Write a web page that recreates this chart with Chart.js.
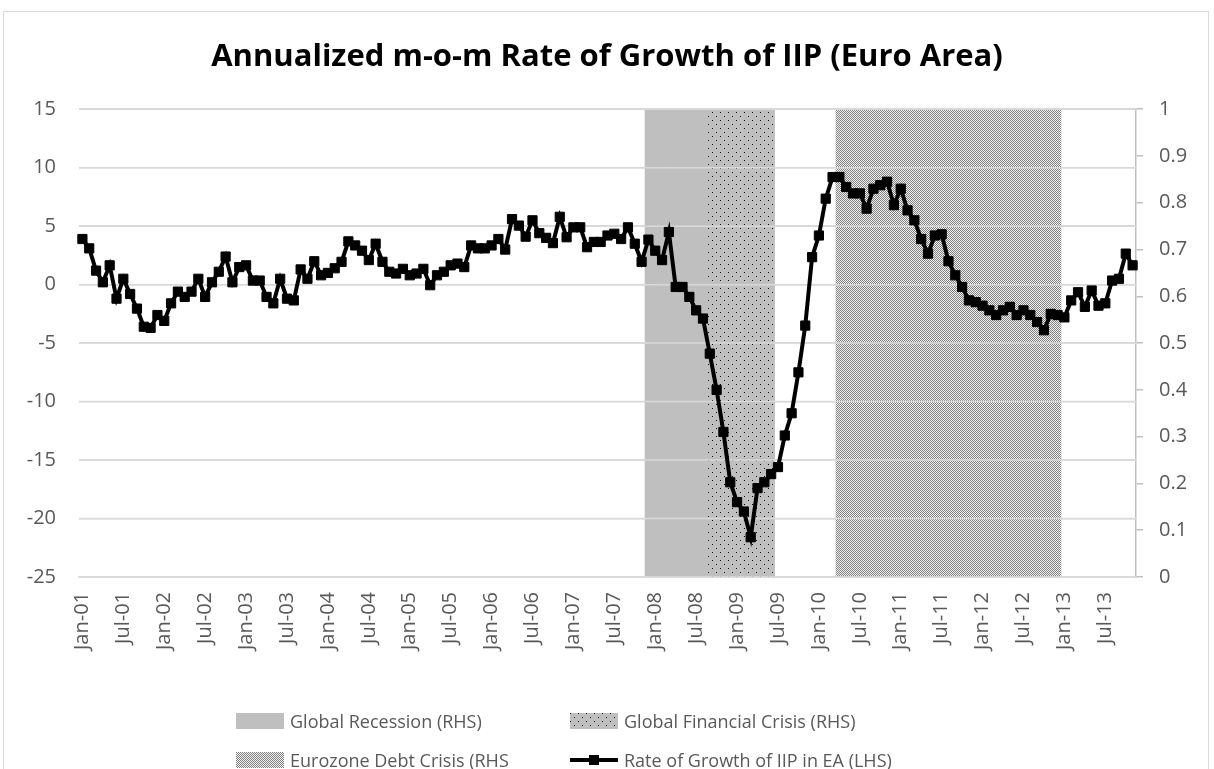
<!DOCTYPE html>
<html>
<head>
<meta charset="utf-8">
<script src="https://cdn.jsdelivr.net/npm/chart.js@4.4.1/dist/chart.umd.min.js"></script>
<style>
  body { margin: 0; background: #fff; }
  #wrap { position: relative; width: 1214px; height: 769px; overflow: hidden; }
  #moldura { position: absolute; left: 3px; top: 11px; width: 1206px; height: 800px; border: 1px solid #D9D9D9; box-sizing: border-box; }
  #grafico { position: absolute; left: 0; top: 0; }
  .leg { position: absolute; display: flex; align-items: center; font-family: 'Open Sans'; font-size: 18px; color: #595959; white-space: nowrap; }
  .leg canvas { margin-right: 6px; }
</style>
</head>
<body>
<div id="wrap">
  <div id="moldura"></div>
  <canvas id="grafico" width="1214" height="769"></canvas>
  <div id="legenda"></div>
</div>
<script>
// Dados (Jan-01 até Nov-13)
const meses = ['Jan', 'Feb', 'Mar', 'Apr', 'May', 'Jun', 'Jul', 'Aug', 'Sep', 'Oct', 'Nov', 'Dec'];
const anos = ['01', '02', '03', '04', '05', '06', '07', '08', '09', '10', '11', '12', '13'];

const crescimentoIIP = [
  3.9, 3.1, 1.2, 0.2, 1.65, -1.2, 0.5, -0.8, -2.05, -3.6, -3.7, -2.6,
  -3.1, -1.6, -0.6, -1.05, -0.6, 0.5, -1.05, 0.2, 1.1, 2.4, 0.2, 1.5,
  1.65, 0.35, 0.35, -1.05, -1.6, 0.5, -1.2, -1.35, 1.3, 0.5, 2.0, 0.8,
  1.0, 1.4, 1.95, 3.7, 3.35, 2.9, 2.1, 3.5, 1.95, 1.1, 0.95, 1.35,
  0.8, 0.95, 1.35, -0.05, 0.8, 1.1, 1.65, 1.8, 1.5, 3.35, 3.1, 3.1,
  3.35, 3.9, 3.0, 5.6, 5.05, 4.1, 5.5, 4.4, 4.0, 3.55, 5.8, 4.05,
  4.9, 4.9, 3.2, 3.65, 3.65, 4.2, 4.35, 3.9, 4.9, 3.5, 1.95, 3.85,
  2.9, 2.1, 4.5, -0.2, -0.2, -1.05, -2.2, -2.9, -5.9, -9.0, -12.6, -16.9,
  -18.6, -19.4, -21.6, -17.4, -16.9, -16.2, -15.6, -12.9, -11.0, -7.5, -3.5, 2.35,
  4.2, 7.35, 9.2, 9.2, 8.35, 7.8, 7.8, 6.5, 8.2, 8.5, 8.8, 6.8,
  8.2, 6.35, 5.5, 3.9, 2.65, 4.2, 4.3, 2.0, 0.8, -0.2, -1.35, -1.5,
  -1.8, -2.2, -2.6, -2.2, -1.9, -2.6, -2.2, -2.6, -3.2, -3.9, -2.5, -2.6,
  -2.8, -1.35, -0.65, -1.9, -0.5, -1.8, -1.6, 0.35, 0.5, 2.65, 1.65
];

// Períodos das crises (eixo da direita, valor 1)
const periodoRecessao = ['Dec-07', 'Aug-08'];
const periodoCriseFinanceira = ['Sep-08', 'Jun-09'];
const periodoCriseDivida = ['Apr-10', 'Dec-12'];

const rotulosLegenda = [
  'Global Recession (RHS)',
  'Global Financial Crisis (RHS)',
  'Eurozone Debt Crisis (RHS',
  'Rate of Growth of IIP in EA (LHS)'
];

const rotulos = anos.flatMap(a => meses.map(m => `${m}-${a}`)).slice(0, crescimentoIIP.length);

function faixa(periodo) {
  const ini = rotulos.indexOf(periodo[0]);
  const fim = rotulos.indexOf(periodo[1]);
  return rotulos.map((r, i) => (i >= ini && i <= fim) ? 1 : null);
}

const ctx = document.getElementById('grafico').getContext('2d');

// Padrões de preenchimento estilo Excel
function padraoPontilhado(c2d) {
  const c = document.createElement('canvas');
  c.width = 8; c.height = 8;
  const g = c.getContext('2d');
  g.fillStyle = '#BFBFBF';
  g.fillRect(0, 0, 8, 8);
  g.fillStyle = '#000';
  g.fillRect(0, 0, 1, 1);
  g.fillRect(4, 4, 1, 1);
  return c2d.createPattern(c, 'repeat');
}

function padraoXadrez(c2d) {
  const c = document.createElement('canvas');
  c.width = 2; c.height = 2;
  const g = c.getContext('2d');
  g.fillStyle = '#F2F2F2';
  g.fillRect(0, 0, 2, 2);
  g.fillStyle = '#808080';
  g.fillRect(0, 0, 1, 1);
  g.fillRect(1, 1, 1, 1);
  return c2d.createPattern(c, 'repeat');
}

const corCinza = '#BFBFBF';
const corGrade = '#D9D9D9';
const fonteEixo = { family: 'Open Sans', size: 20 };
const corTexto = '#595959';

// Linhas de grade por cima das faixas, mas por baixo da série
const gradeSobreFaixas = {
  id: 'gradeSobreFaixas',
  beforeDatasetDraw(chart, args) {
    if (args.index !== 0) return;
    const { ctx, chartArea, scales } = chart;
    ctx.save();
    ctx.strokeStyle = corGrade;
    ctx.lineWidth = 1.5;
    scales.y.ticks.forEach(t => {
      const y = scales.y.getPixelForValue(t.value);
      ctx.beginPath();
      ctx.moveTo(chartArea.left, y);
      ctx.lineTo(chartArea.right, y);
      ctx.stroke();
    });
    ctx.restore();
  }
};

new Chart(ctx, {
  data: {
    labels: rotulos,
    datasets: [
      {
        type: 'line',
        label: rotulosLegenda[3],
        data: crescimentoIIP,
        yAxisID: 'y',
        borderColor: '#000',
        borderWidth: 4,
        pointStyle: 'rect',
        pointRadius: 6.5,
        pointBorderWidth: 1,
        pointBackgroundColor: '#000',
        pointBorderColor: '#000',
        tension: 0,
        order: 0
      },
      {
        type: 'bar',
        label: rotulosLegenda[0],
        data: faixa(periodoRecessao),
        yAxisID: 'y1',
        backgroundColor: corCinza,
        barPercentage: 1,
        categoryPercentage: 1,
        grouped: false,
        order: 1
      },
      {
        type: 'bar',
        label: rotulosLegenda[1],
        data: faixa(periodoCriseFinanceira),
        yAxisID: 'y1',
        backgroundColor: padraoPontilhado(ctx),
        barPercentage: 1,
        categoryPercentage: 1,
        grouped: false,
        order: 1
      },
      {
        type: 'bar',
        label: rotulosLegenda[2],
        data: faixa(periodoCriseDivida),
        yAxisID: 'y1',
        backgroundColor: padraoXadrez(ctx),
        barPercentage: 1,
        categoryPercentage: 1,
        grouped: false,
        order: 1
      }
    ]
  },
  options: {
    responsive: false,
    animation: false,
    layout: { padding: { left: 0, right: 0, top: 0, bottom: 102 } },
    plugins: {
      legend: { display: false },
      tooltip: { enabled: false },
      title: {
        display: true,
        text: 'Annualized m-o-m Rate of Growth of IIP (Euro Area)',
        color: '#000',
        font: { family: 'Open Sans', size: 31, weight: 'bold' },
        padding: { top: 39, bottom: 33 }
      }
    },
    scales: {
      x: {
        offset: true,
        grid: { display: false, drawTicks: false },
        border: { color: corGrade, width: 1.5 },
        ticks: {
          autoSkip: false,
          minRotation: 90,
          maxRotation: 90,
          padding: 15,
          color: corTexto,
          font: fonteEixo,
          callback: function (v, i) { return i % 6 === 0 ? this.getLabelForValue(v) : ''; }
        },
        afterFit: s => { s.height = 90; }
      },
      y: {
        position: 'left',
        min: -25,
        max: 15,
        ticks: { stepSize: 5, padding: 23, color: corTexto, font: fonteEixo },
        grid: { color: corGrade, lineWidth: 1.5, drawTicks: false },
        border: { display: false },
        afterFit: s => { s.width = 79; }
      },
      y1: {
        position: 'right',
        min: 0,
        max: 1,
        ticks: {
          stepSize: 0.1,
          padding: 16,
          color: corTexto,
          font: fonteEixo,
          callback: v => String(Number(v.toFixed(1)))
        },
        grid: { drawOnChartArea: false, color: corCinza, tickLength: 7, lineWidth: 1.5 },
        border: { color: corCinza, width: 1.5 },
        afterFit: s => { s.width = 78; }
      }
    }
  },
  plugins: [gradeSobreFaixas]
});

// Legenda em duas colunas, como no original
const legenda = document.getElementById('legenda');
const posicoes = [[236, 721], [570, 721], [236, 760], [570, 760]];

rotulosLegenda.forEach((texto, i) => {
  const item = document.createElement('div');
  item.className = 'leg';
  item.style.left = posicoes[i][0] + 'px';
  item.style.top = (posicoes[i][1] - 13) + 'px';
  item.style.height = '26px';
  const amostra = document.createElement('canvas');
  amostra.width = 48;
  amostra.height = 16;
  const g = amostra.getContext('2d');
  if (i === 0) {
    g.fillStyle = corCinza;
    g.fillRect(0, 0, 48, 16);
  } else if (i === 1) {
    g.fillStyle = padraoPontilhado(g);
    g.fillRect(0, 0, 48, 16);
  } else if (i === 2) {
    g.fillStyle = padraoXadrez(g);
    g.fillRect(0, 0, 48, 16);
  } else {
    g.strokeStyle = '#000';
    g.lineWidth = 4;
    g.beginPath();
    g.moveTo(0, 8);
    g.lineTo(48, 8);
    g.stroke();
    g.fillStyle = '#000';
    g.fillRect(19, 3, 10, 10);
  }
  item.appendChild(amostra);
  const span = document.createElement('span');
  span.textContent = texto;
  item.appendChild(span);
  legenda.appendChild(item);
});
</script>
</body>
</html>
